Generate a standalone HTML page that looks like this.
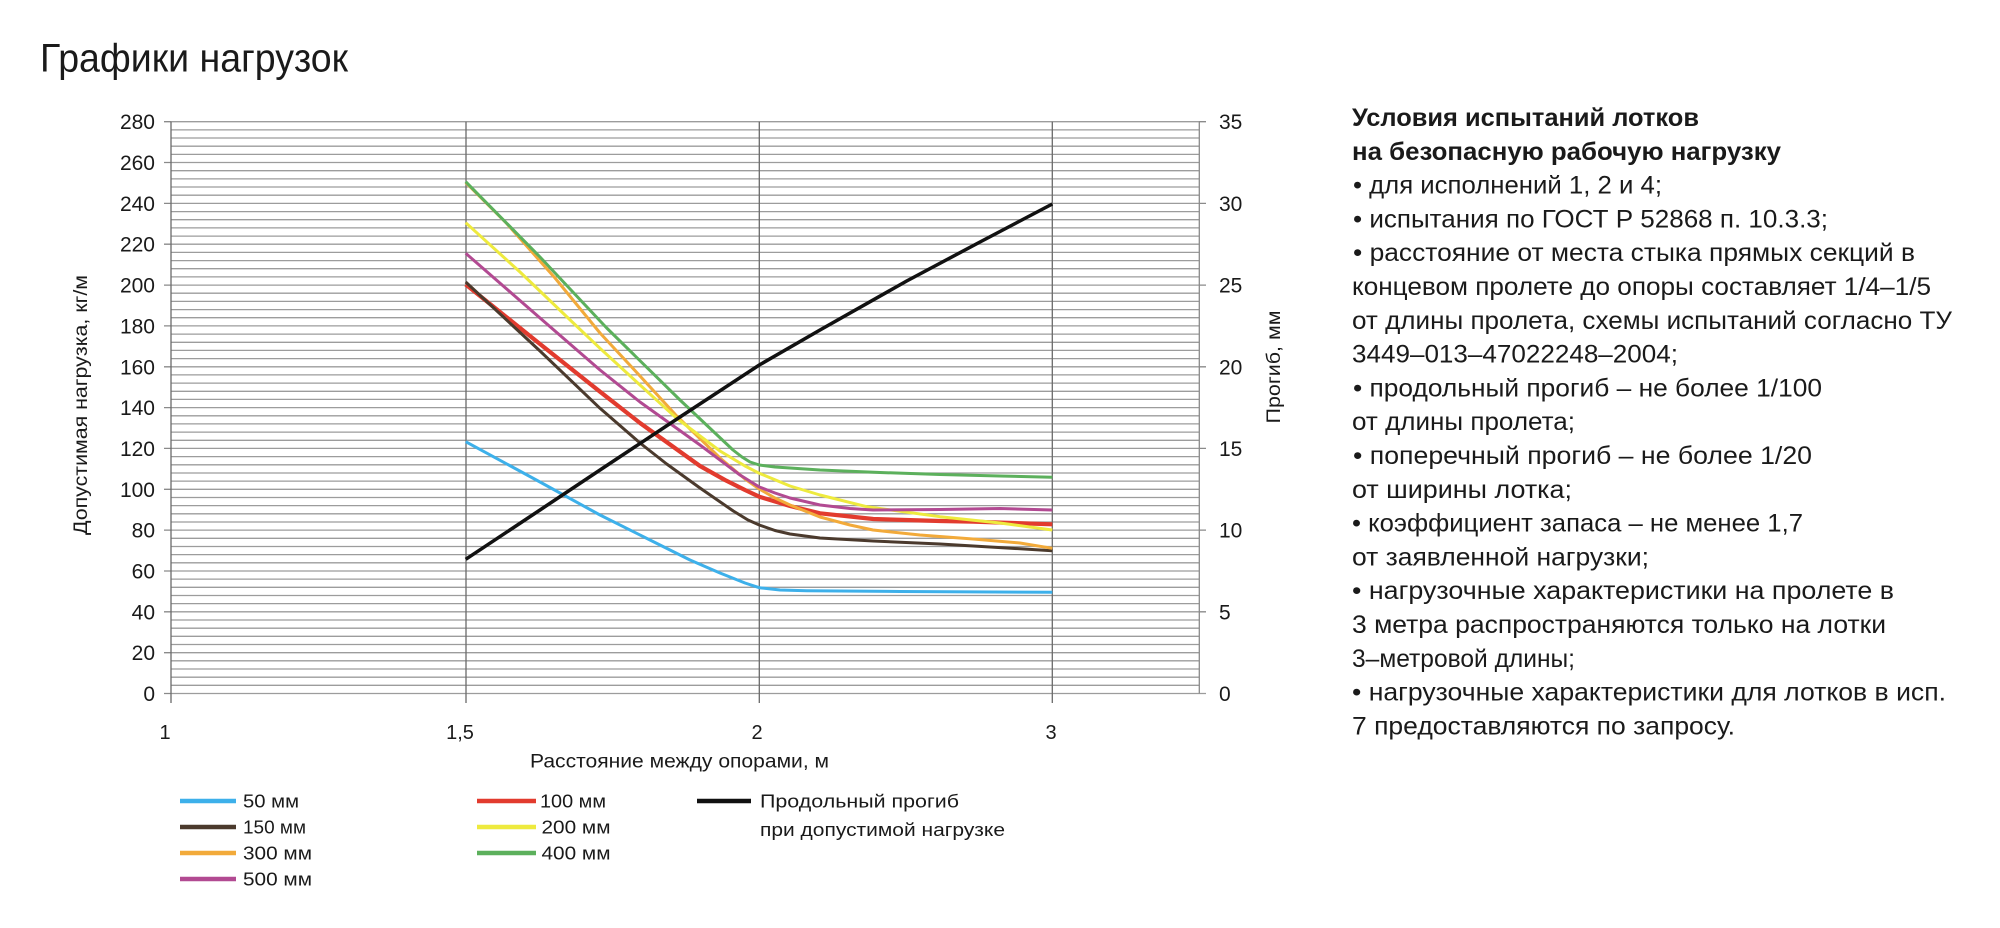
<!DOCTYPE html>
<html><head><meta charset="utf-8">
<style>
html,body{margin:0;padding:0;background:#fff;}
svg{display:block;}
text{font-family:"Liberation Sans","DejaVu Sans",sans-serif;fill:#1a1a1a;}
</style></head>
<body>
<svg width="2000" height="928" viewBox="0 0 2000 928" xmlns="http://www.w3.org/2000/svg">
<rect width="2000" height="928" fill="#fff"/>

<!-- Title -->
<text x="40" y="71.5" font-size="40" textLength="308" lengthAdjust="spacingAndGlyphs">Графики нагрузок</text>

<!-- horizontal grid lines -->
<path fill="none" stroke="#9c9c9c" stroke-width="1.3" d="
M171 693.5H1206 M171 685.3H1199 M171 677.2H1199 M171 669.0H1199 M171 660.8H1199 M171 652.7H1199
M171 644.5H1199 M171 636.3H1199 M171 628.2H1199 M171 620.0H1199 M171 611.8H1199 M171 603.6H1199
M171 595.5H1199 M171 587.3H1199 M171 579.1H1199 M171 571.0H1199 M171 562.8H1199 M171 554.6H1199
M171 546.5H1199 M171 538.3H1199 M171 530.1H1199 M171 522.0H1199 M171 513.8H1199 M171 505.6H1199
M171 497.5H1199 M171 489.3H1199 M171 481.1H1199 M171 473.0H1199 M171 464.8H1199 M171 456.6H1199
M171 448.4H1199 M171 440.3H1199 M171 432.1H1199 M171 423.9H1199 M171 415.8H1199 M171 407.6H1199
M171 399.4H1199 M171 391.3H1199 M171 383.1H1199 M171 374.9H1199 M171 366.8H1199 M171 358.6H1199
M171 350.4H1199 M171 342.3H1199 M171 334.1H1199 M171 325.9H1199 M171 317.7H1199 M171 309.6H1199
M171 301.4H1199 M171 293.2H1199 M171 285.1H1199 M171 276.9H1199 M171 268.7H1199 M171 260.6H1199
M171 252.4H1199 M171 244.2H1199 M171 236.1H1199 M171 227.9H1199 M171 219.7H1199 M171 211.6H1199
M171 203.4H1199 M171 195.2H1199 M171 187.0H1199 M171 178.9H1199 M171 170.7H1199 M171 162.5H1199
M171 154.4H1199 M171 146.2H1199 M171 138.0H1199 M171 129.9H1199 M171 121.7H1199"/>

<!-- left ticks (major) -->
<path fill="none" stroke="#8a8a8a" stroke-width="1.3" d="
M164 693.5H171 M164 652.7H171 M164 611.8H171 M164 571.0H171 M164 530.1H171 M164 489.3H171 M164 448.4H171
M164 407.6H171 M164 366.8H171 M164 325.9H171 M164 285.1H171 M164 244.2H171 M164 203.4H171 M164 162.5H171 M164 121.7H171"/>
<!-- right ticks -->
<path fill="none" stroke="#8a8a8a" stroke-width="1.3" d="
M1199 611.8H1206 M1199 530.1H1206 M1199 448.4H1206 M1199 366.8H1206 M1199 285.1H1206 M1199 203.4H1206 M1199 121.7H1206"/>

<!-- vertical lines -->
<path fill="none" stroke="#6a6a6a" stroke-width="1.3" d="M171 121.7V703 M466 121.7V703 M759.3 121.7V703 M1052.3 121.7V703"/>
<path fill="none" stroke="#8a8a8a" stroke-width="1.3" d="M1199.3 121.7V693.5"/>

<!-- left axis labels -->
<g font-size="21" text-anchor="end">
<text x="155" y="701">0</text>
<text x="155" y="660.2">20</text>
<text x="155" y="619.3">40</text>
<text x="155" y="578.5">60</text>
<text x="155" y="537.6">80</text>
<text x="155" y="496.8">100</text>
<text x="155" y="455.9">120</text>
<text x="155" y="415.1">140</text>
<text x="155" y="374.3">160</text>
<text x="155" y="333.4">180</text>
<text x="155" y="292.6">200</text>
<text x="155" y="251.7">220</text>
<text x="155" y="210.9">240</text>
<text x="155" y="170">260</text>
<text x="155" y="129.2">280</text>
</g>

<!-- right axis labels -->
<g font-size="21" text-anchor="start">
<text x="1219" y="701">0</text>
<text x="1219" y="619.3">5</text>
<text x="1219" y="537.6">10</text>
<text x="1219" y="455.9">15</text>
<text x="1219" y="374.3">20</text>
<text x="1219" y="292.6">25</text>
<text x="1219" y="210.9">30</text>
<text x="1219" y="129.2">35</text>
</g>

<!-- x axis labels -->
<g font-size="20" text-anchor="middle">
<text x="165" y="739">1</text>
<text x="460" y="739">1,5</text>
<text x="757" y="739">2</text>
<text x="1051" y="739">3</text>
</g>

<!-- axis titles -->
<text x="530" y="767.5" font-size="19" textLength="299" lengthAdjust="spacingAndGlyphs">Расстояние между опорами, м</text>
<text transform="translate(87,405) rotate(-90)" font-size="19" text-anchor="middle" textLength="260" lengthAdjust="spacingAndGlyphs">Допустимая нагрузка, кг/м</text>
<text transform="translate(1280,367) rotate(-90)" font-size="19" text-anchor="middle" textLength="113" lengthAdjust="spacingAndGlyphs">Прогиб, мм</text>

<!-- series -->
<g fill="none" stroke-linejoin="round" stroke-linecap="butt">
<!-- 50 mm blue -->
<polyline stroke="#3db0ea" stroke-width="3" points="465.7,441.7 540,482 600,515 650,540 690,560 720,573 745,583 759.3,587.7 780,590 806.7,590.7 900,591.5 1052.3,592.3"/>
<!-- 100 mm red -->
<polyline stroke="#e23b2e" stroke-width="4.2" points="465.7,284.5 540,344 600,391.7 640,423 700,466 725,480 745,490 759.3,496.7 790,506 820,513.3 873.3,519 940,521 973.3,521.7 1052.3,524.3"/>
<!-- 150 mm brown -->
<polyline stroke="#4b3a2d" stroke-width="3" points="465.7,282 540,351 600,408.3 640,443 666.7,464 700,488 733.3,511 748,520 759.3,525 775,530.5 790,534 820,538 873.3,541 940,544 973.3,546 1052.3,550.7"/>
<!-- 300 mm orange -->
<polyline stroke="#f2aa3a" stroke-width="3" points="465.7,182.5 506.7,223.5 555,278 600,333 640,376 676.7,416 720,458 745,479 759.3,489 775,498 790,505 820,517 850,525 873,530 920,535 973,539 1020,543 1052.3,548.3"/>
<!-- 200 mm yellow -->
<polyline stroke="#eeea3e" stroke-width="3" points="465.7,222.7 520,272 573.3,323 600,348.3 640,385 676.7,418.3 720,451 745,466 759.3,473.3 790,486 820,495 866.7,506.7 940,516.7 1000,523 1052.3,530"/>
<!-- 500 mm purple -->
<polyline stroke="#b24a92" stroke-width="3" points="465.7,253.3 540,318 600,370 640,402 700,445 740,475 759.3,487 775,493 790,498 820,505 850,508.5 873,510 940,509.5 1000,508.5 1052.3,510"/>
<!-- 400 mm green -->
<polyline stroke="#5cb05c" stroke-width="3" points="465.7,181.7 540,257 606.7,328 680,400 733,450 742,457 750,462 759.3,465 775,467 820,470 880,472.5 940,474.5 1000,476 1052.3,477.3"/>
<!-- deflection black -->
<polyline stroke="#111" stroke-width="3.5" points="465.7,559.3 540,510 600,470 680,417 759.3,365 820,330 906.7,281 980,242 1052.3,204"/>
</g>

<!-- legend -->
<g stroke-width="4.5" fill="none">
<line x1="180" y1="801" x2="236" y2="801" stroke="#3db0ea"/>
<line x1="180" y1="827" x2="236" y2="827" stroke="#4b3a2d"/>
<line x1="180" y1="853" x2="236" y2="853" stroke="#f2aa3a"/>
<line x1="180" y1="879" x2="236" y2="879" stroke="#b24a92"/>
<line x1="477" y1="801" x2="536" y2="801" stroke="#e23b2e"/>
<line x1="477" y1="827" x2="536" y2="827" stroke="#eeea3e"/>
<line x1="477" y1="853" x2="536" y2="853" stroke="#5cb05c"/>
<line x1="697" y1="801" x2="751" y2="801" stroke="#111"/>
</g>
<g font-size="18">
<text x="243" y="807.5" textLength="56" lengthAdjust="spacingAndGlyphs">50 мм</text>
<text x="243" y="833.5" textLength="63" lengthAdjust="spacingAndGlyphs">150 мм</text>
<text x="243" y="859.5" textLength="69" lengthAdjust="spacingAndGlyphs">300 мм</text>
<text x="243" y="885.5" textLength="69" lengthAdjust="spacingAndGlyphs">500 мм</text>
<text x="540" y="807.5" textLength="66" lengthAdjust="spacingAndGlyphs">100 мм</text>
<text x="541.5" y="833.5" textLength="69" lengthAdjust="spacingAndGlyphs">200 мм</text>
<text x="541.5" y="859.5" textLength="69" lengthAdjust="spacingAndGlyphs">400 мм</text>
<text x="760" y="807.5" textLength="199" lengthAdjust="spacingAndGlyphs">Продольный прогиб</text>
<text x="760" y="836" textLength="245" lengthAdjust="spacingAndGlyphs">при допустимой нагрузке</text>
</g>

<!-- right text block -->
<g font-size="25">
<text x="1352" y="126" font-weight="bold" textLength="347" lengthAdjust="spacingAndGlyphs">Условия испытаний лотков</text>
<text x="1352" y="159.8" font-weight="bold" textLength="429" lengthAdjust="spacingAndGlyphs">на безопасную рабочую нагрузку</text>
<text x="1353" y="193.6" textLength="309" lengthAdjust="spacingAndGlyphs">• для исполнений 1, 2 и 4;</text>
<text x="1353" y="227.4" textLength="475" lengthAdjust="spacingAndGlyphs">• испытания по ГОСТ Р 52868 п. 10.3.3;</text>
<text x="1353" y="261.2" textLength="562" lengthAdjust="spacingAndGlyphs">• расстояние от места стыка прямых секций в</text>
<text x="1352" y="295" textLength="579" lengthAdjust="spacingAndGlyphs">концевом пролете до опоры составляет 1/4–1/5</text>
<text x="1352" y="328.8" textLength="600" lengthAdjust="spacingAndGlyphs">от длины пролета, схемы испытаний согласно ТУ</text>
<text x="1352" y="362.6" textLength="326" lengthAdjust="spacingAndGlyphs">3449–013–47022248–2004;</text>
<text x="1353" y="396.4" textLength="469" lengthAdjust="spacingAndGlyphs">• продольный прогиб – не более 1/100</text>
<text x="1352" y="430.2" textLength="223" lengthAdjust="spacingAndGlyphs">от длины пролета;</text>
<text x="1353" y="464" textLength="459" lengthAdjust="spacingAndGlyphs">• поперечный прогиб – не более 1/20</text>
<text x="1352" y="497.8" textLength="220" lengthAdjust="spacingAndGlyphs">от ширины лотка;</text>
<text x="1352" y="531.6" textLength="451" lengthAdjust="spacingAndGlyphs">• коэффициент запаса – не менее 1,7</text>
<text x="1352" y="565.4" textLength="297" lengthAdjust="spacingAndGlyphs">от заявленной нагрузки;</text>
<text x="1352" y="599.2" textLength="542" lengthAdjust="spacingAndGlyphs">• нагрузочные характеристики на пролете в</text>
<text x="1352" y="633" textLength="534" lengthAdjust="spacingAndGlyphs">3 метра распространяются только на лотки</text>
<text x="1352" y="666.8" textLength="223" lengthAdjust="spacingAndGlyphs">3–метровой длины;</text>
<text x="1352" y="700.6" textLength="594" lengthAdjust="spacingAndGlyphs">• нагрузочные характеристики для лотков в исп.</text>
<text x="1352" y="734.4" textLength="383" lengthAdjust="spacingAndGlyphs">7 предоставляются по запросу.</text>
</g>
</svg>
</body></html>
